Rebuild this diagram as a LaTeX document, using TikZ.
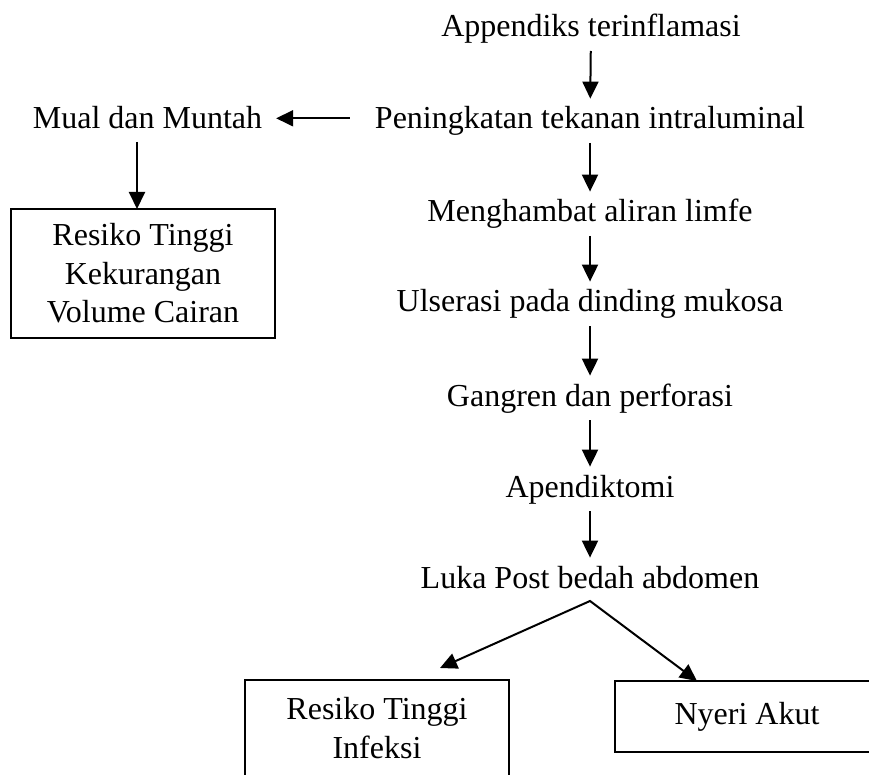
\documentclass[tikz,border=0pt]{standalone}
\usepackage{fontspec}
\setmainfont{Liberation Serif}
\usetikzlibrary{arrows.meta}
\tikzset{
  flow chart/.style={
    x=1pt, y=-1pt, line width=2pt,
    >={Triangle[length=17pt,width=16pt]},
    every node/.style={font=\fontsize{32}{38.5}\selectfont,
      text=black, inner sep=0pt, outer sep=0pt}
  },
  flow step/.style={anchor=base, text height=22.4pt, text depth=7pt},
  flow box/.style={draw, line width=1.6pt, align=center, minimum width=264pt},
  flow arrow/.style={->, shorten <=7pt, shorten >=8pt}
}

\begin{document}
\begin{tikzpicture}[flow chart]
    \useasboundingbox (0,0) rectangle (869,775);
    \clip (0,0) rectangle (869,775);
    % main chain
    \node[flow step] (appendiks) at (591,37) {Appendiks terinflamasi};
    \node[flow step] (tekanan) at (590,129) {Peningkatan tekanan intraluminal};
    \node[flow step] (limfe) at (590,222) {Menghambat aliran limfe};
    \node[flow step] (ulserasi) at (590,312) {Ulserasi pada dinding mukosa};
    \node[flow step] (gangren) at (590,406) {Gangren dan perforasi};
    \node[flow step] (apendiktomi) at (590,497) {Apendiktomi};
    \node[flow step] (luka) at (590,588) {Luka Post bedah abdomen};
    \foreach \a/\b in {appendiks/tekanan, tekanan/limfe, limfe/ulserasi,
      ulserasi/gangren, gangren/apendiktomi, apendiktomi/luka}
      \draw[flow arrow] (\a) -- (\b);
    % left branch
    \node[flow step] (mual) at (147.5,129) {Mual dan Muntah};
    \node[flow box, minimum height=129pt] (cairan) at (143,273.5)
      {Resiko Tinggi\\Kekurangan\\Volume Cairan};
    \draw[flow arrow, shorten <=25pt, shorten >=14pt]
      ([yshift=3pt]tekanan.west) -- ([yshift=3pt]mual.east);
    \draw[flow arrow, shorten <=6pt, shorten >=0pt]
      ([xshift=-6pt]cairan.north |- mual.south) -- ([xshift=-6pt]cairan.north);
    % diagnoses after surgery
    \node[flow box, minimum height=96pt] (infeksi) at (377,728)
      {Resiko Tinggi\\Infeksi};
    \node[flow box, minimum height=71pt] (nyeri) at (747,716.5) {Nyeri Akut};
    \coordinate (fork) at ([yshift=-6pt]luka.south);
    \draw[<->] ([xshift=63pt,yshift=12pt]infeksi.north) -- (fork)
      -- ([xshift=-50pt]nyeri.north);
\end{tikzpicture}
\end{document}
